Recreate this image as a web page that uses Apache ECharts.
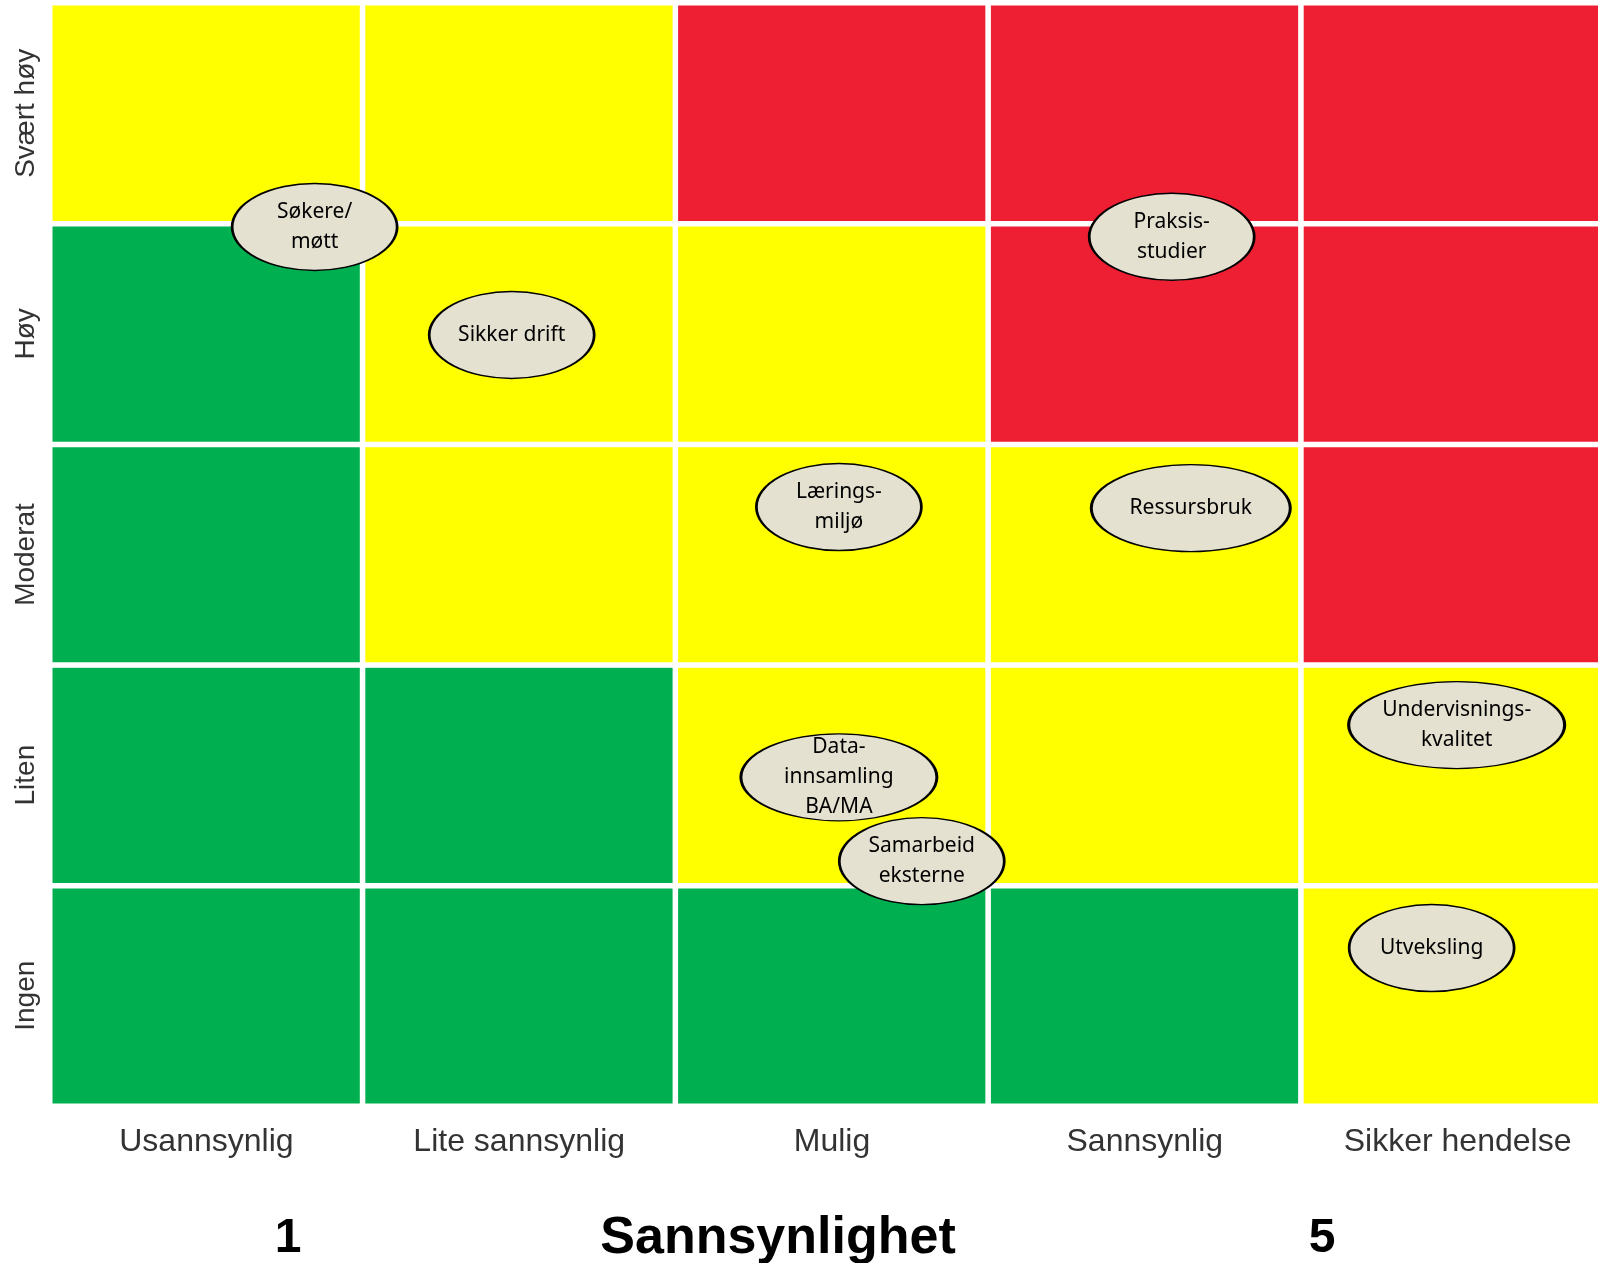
<!DOCTYPE html>
<html>
<head>
<meta charset="utf-8">
<script src="https://cdn.jsdelivr.net/npm/echarts@6/dist/echarts.min.js"></script>
<style>
html,body{margin:0;padding:0;background:#fff;}
#chart{width:1598px;height:1263px;}
</style>
</head>
<body>
<div id="chart"></div>
<script>
// Likelihood categories (x) and consequence categories (y, bottom to top)
const likelihood = ['Usannsynlig', 'Lite sannsynlig', 'Mulig', 'Sannsynlig', 'Sikker hendelse'];
const consequence = ['Ingen', 'Liten', 'Moderat', 'Høy', 'Svært høy'];
// Risk level per cell: rows bottom (Ingen) to top (Svært høy); 0 = low, 1 = medium, 2 = high
const riskRows = [
  [0, 0, 0, 0, 1],
  [0, 0, 1, 1, 1],
  [0, 1, 1, 1, 2],
  [0, 1, 1, 2, 2],
  [1, 1, 2, 2, 2]
];
// Risk items placed on the matrix (x = likelihood position, y = consequence position, 0..5)
const riskNames = ['Søkere/\nmøtt', 'Sikker drift', 'Praksis-\nstudier', 'Lærings-\nmiljø', 'Ressursbruk',
  'Undervisnings-\nkvalitet', 'Data-\ninnsamling\nBA/MA', 'Samarbeid\neksterne', 'Utveksling'];
const riskX = [0.846, 1.476, 3.586, 2.522, 3.647, 4.497, 2.522, 2.787, 4.417];
const riskY = [3.985, 3.495, 3.940, 2.715, 2.710, 1.727, 1.490, 1.110, 0.716];

// styles
const levelColors = ['#00B050', '#FFFF00', '#EE1F33'];
const ellipseW = {'Ressursbruk': 199, 'Undervisnings-\nkvalitet': 216, 'Data-\ninnsamling\nBA/MA': 196};

const heatData = [];
riskRows.forEach((row, yi) => row.forEach((lvl, xi) => {
  heatData.push({value: [xi, yi, lvl], itemStyle: {color: levelColors[lvl]}});
}));
const scatterData = riskNames.map((n, i) => ({
  name: n,
  value: [riskX[i], riskY[i]],
  symbolSize: [ellipseW[n] || 165, 87]
}));

const chart = echarts.init(document.getElementById('chart'));
chart.setOption({
  animation: false,
  backgroundColor: '#ffffff',
  grid: {left: 50, right: -16, top: 3, bottom: 157, outerBoundsMode: 'none', containLabel: false},
  xAxis: [
    {type: 'category', data: likelihood, gridIndex: 0,
     axisLine: {show: false}, axisTick: {show: false}, splitLine: {show: false},
     axisLabel: {fontSize: 32, color: '#333', fontFamily: 'Liberation Sans', margin: 20}},
    {type: 'value', min: 0, max: 5, show: false, gridIndex: 0}
  ],
  yAxis: [
    {type: 'category', data: consequence, gridIndex: 0,
     axisLine: {show: false}, axisTick: {show: false}, splitLine: {show: false},
     axisLabel: {fontSize: 28, color: '#333', fontFamily: 'Liberation Sans', rotate: 90, margin: 10}},
    {type: 'value', min: 0, max: 5, show: false, gridIndex: 0}
  ],
  series: [
    {type: 'heatmap', xAxisIndex: 0, yAxisIndex: 0, data: heatData,
     itemStyle: {borderColor: '#ffffff', borderWidth: 5.5},
     emphasis: {disabled: true}, label: {show: false}},
    {type: 'scatter', xAxisIndex: 1, yAxisIndex: 1, data: scatterData,
     symbol: 'circle',
     itemStyle: {color: '#E5E1D1', borderColor: '#000', borderWidth: 2, opacity: 1},
     emphasis: {disabled: true},
     label: {show: true, position: 'inside', formatter: p => p.name,
       color: '#000', fontSize: 21, lineHeight: 30, fontFamily: 'Noto Sans'}}
  ],
  graphic: [
    {type: 'text', style: {x: 288, y: 1239, text: '1', font: 'bold 48px "Liberation Sans"', fill: '#000', textAlign: 'center', textVerticalAlign: 'middle'}},
    {type: 'text', style: {x: 778, y: 1239, text: 'Sannsynlighet', font: 'bold 52px "Liberation Sans"', fill: '#000', textAlign: 'center', textVerticalAlign: 'middle'}},
    {type: 'text', style: {x: 1322, y: 1239, text: '5', font: 'bold 48px "Liberation Sans"', fill: '#000', textAlign: 'center', textVerticalAlign: 'middle'}}
  ]
});
</script>
</body>
</html>
